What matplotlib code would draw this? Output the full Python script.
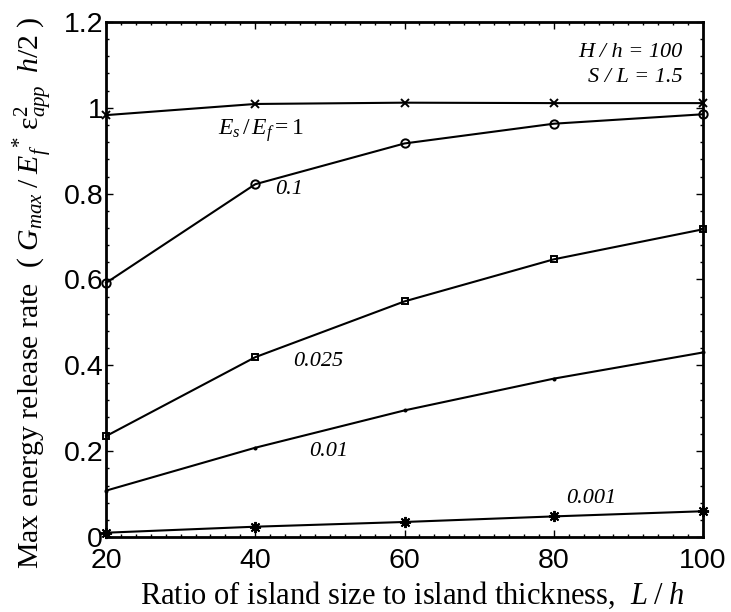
import matplotlib
matplotlib.use("Agg")
import matplotlib.pyplot as plt
from matplotlib.ticker import MultipleLocator, FuncFormatter

plt.rcParams['mathtext.fontset'] = 'custom'
plt.rcParams['mathtext.rm'] = 'Liberation Serif'
plt.rcParams['mathtext.it'] = 'Liberation Serif:italic'
plt.rcParams['mathtext.bf'] = 'Liberation Serif:bold'

# L/h values
ratio = [20, 40, 60, 80, 100]

# max energy release rate for each Es/Ef
g_1 = [0.983, 1.009, 1.012, 1.011, 1.011]
g_01 = [0.592, 0.822, 0.917, 0.963, 0.985]
g_0025 = [0.235, 0.419, 0.549, 0.647, 0.717]
g_001 = [0.108, 0.208, 0.295, 0.369, 0.430]
g_0001 = [0.010, 0.024, 0.035, 0.048, 0.060]

series = [g_1, g_01, g_0025, g_001, g_0001]
markers = ['x', 'o', 's', '.', (8, 2, 0)]  # last one: asterisk like matlab '*'
msizes = [6, 6, 4.5, 3, 8]

fig = plt.figure(figsize=(7.31, 6.12), dpi=100)
ax = fig.add_axes([106/731, 1 - 537/612, 597/731, 515/612])

for vals, m, ms in zip(series, markers, msizes):
    ax.plot(ratio, vals, color='black', lw=1.5, marker=m, ms=ms,
            mfc='none', mec='black', mew=1.4, clip_on=False)

ax.set_xlim(20, 100)
ax.set_ylim(0, 1.2)
ax.xaxis.set_major_locator(MultipleLocator(20))
ax.xaxis.set_minor_locator(MultipleLocator(2))
ax.yaxis.set_major_locator(MultipleLocator(0.2))
ax.yaxis.set_minor_locator(MultipleLocator(0.04))
ax.yaxis.set_major_formatter(FuncFormatter(lambda v, p: '%g' % round(v, 2)))

ax.tick_params(which='both', direction='in', top=True, right=True, width=1)
ax.tick_params(which='major', length=5, labelsize=20.5)
ax.tick_params(axis='x', which='major', pad=8)
ax.tick_params(axis='y', which='major', pad=2)
ax.tick_params(which='minor', length=2.5)
for lab in ax.get_xticklabels() + ax.get_yticklabels():
    lab.set_family('Liberation Sans')
for s in ax.spines.values():
    s.set_linewidth(2)

# curve labels
ital = dict(family='Liberation Serif', style='italic', fontsize=16, color='black')
ax.text(35.0, 0.948, r'$E_s\,/\,E_f = \mathit{1}$', fontsize=17, va='center')
ax.text(42.7, 0.81, '0.1', va='center', **ital)
ax.text(45.1, 0.41, '0.025', va='center', **ital)
ax.text(47.2, 0.20, '0.01', va='center', **ital)
ax.text(81.6, 0.089, '0.001', va='center', **ital)
ax.text(97.3, 1.128, 'H / h = 100', ha='right', va='center', **ital)
ax.text(97.3, 1.07, 'S / L = 1.5', ha='right', va='center', **ital)

fig.text(412/731, 1 - 595/612,
         r'Ratio of island size to island thickness,  $L\;/\;h$',
         family='Liberation Serif', fontsize=22, ha='center', va='center')
fig.text(33/731, 1 - 293/612,
         r'Max energy release rate  ( $G_{max}\;/\;E_f^{\,*}\,\mathrm{\varepsilon}^{2}_{app}\;\;h/2$ )',
         family='Liberation Serif', fontsize=21.5, ha='center', va='center',
         rotation=90)

fig.savefig('out.png', dpi=100)
